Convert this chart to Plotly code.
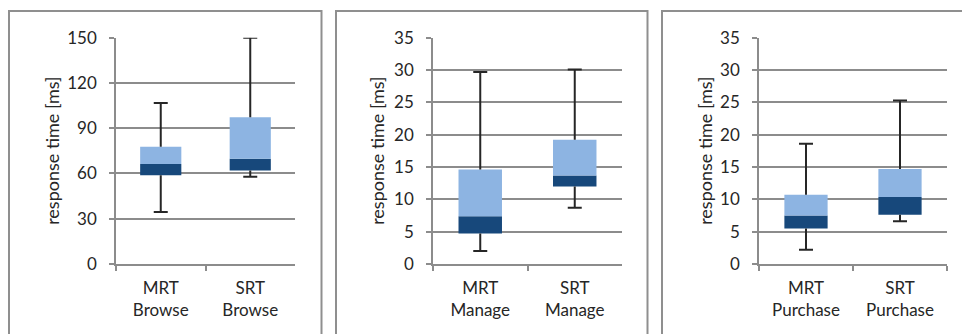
import plotly.graph_objects as go

# Response-time box summaries (min, Q1, median, Q3, max) per operation
browse_labels = ["MRT<br>Browse", "SRT<br>Browse"]
browse_min = [34.5, 57.9]
browse_q1 = [58.8, 61.9]
browse_med = [66.3, 69.8]
browse_q3 = [77.8, 97.2]
browse_max = [106.7, 150.0]

manage_labels = ["MRT<br>Manage", "SRT<br>Manage"]
manage_min = [2.0, 8.7]
manage_q1 = [4.7, 12.0]
manage_med = [7.4, 13.7]
manage_q3 = [14.6, 19.2]
manage_max = [29.7, 30.1]

purchase_labels = ["MRT<br>Purchase", "SRT<br>Purchase"]
purchase_min = [2.2, 6.6]
purchase_q1 = [5.5, 7.6]
purchase_med = [7.5, 10.35]
purchase_q3 = [10.7, 14.7]
purchase_max = [18.6, 25.3]

y_ranges = [[0, 150], [0, 35], [0, 35]]
y_dticks = [30, 5, 5]

LIGHT = "#8db4e2"
DARK = "#17487b"
WHISKER = "#262626"
GRID = "#8c8c8c"
TEXT = "#262626"
FONT = "Lato"

W, H = 962, 334
plot_x = [(116, 295), (433, 622), (759, 947)]
plot_y = (37.7, 264)
title_x = [52, 377, 705]
frames = [(9, 321.5), (336, 647.5), (662, 1000)]
bar_width = 0.46

panels = [
    (browse_labels, browse_min, browse_q1, browse_med, browse_q3, browse_max),
    (manage_labels, manage_min, manage_q1, manage_med, manage_q3, manage_max),
    (purchase_labels, purchase_min, purchase_q1, purchase_med, purchase_q3, purchase_max),
]

fig = go.Figure()
layout = {}
annotations = []
shapes = []

for i, (labels, mn, q1, med, q3, mx) in enumerate(panels):
    sfx = "" if i == 0 else str(i + 1)
    xa, ya = "x" + sfx, "y" + sfx

    # lower whisker and upper whisker segments
    wx, wy = [], []
    for c, lo, b, t, hi in zip(labels, mn, q1, q3, mx):
        wx += [c, c, None, c, c, None]
        wy += [lo, b, None, t, hi, None]
    fig.add_trace(go.Scatter(x=wx, y=wy, mode="lines",
                             line=dict(color=WHISKER, width=2),
                             xaxis=xa, yaxis=ya, showlegend=False, hoverinfo="skip"))
    # whisker caps
    fig.add_trace(go.Scatter(x=labels + labels, y=mn + mx, mode="markers",
                             marker=dict(symbol="line-ew", size=10,
                                         line=dict(color=WHISKER, width=2)),
                             xaxis=xa, yaxis=ya, showlegend=False, hoverinfo="skip"))
    # box: Q1 -> median (dark), median -> Q3 (light)
    fig.add_trace(go.Bar(x=labels, y=[m - b for m, b in zip(med, q1)], base=q1,
                         marker=dict(color=DARK, line=dict(width=0)), width=bar_width,
                         xaxis=xa, yaxis=ya, showlegend=False))
    fig.add_trace(go.Bar(x=labels, y=[t - m for t, m in zip(q3, med)], base=med,
                         marker=dict(color=LIGHT, line=dict(width=0)), width=bar_width,
                         xaxis=xa, yaxis=ya, showlegend=False))

    x0, x1 = plot_x[i]
    layout["xaxis" + sfx] = dict(
        domain=[x0 / W, x1 / W], anchor=ya, type="category", automargin=False,
        range=[-0.5, 1.5], showline=True, linecolor=GRID, linewidth=1.5,
        ticks="outside", tickson="boundaries", ticklen=5, tickcolor=GRID, tickwidth=1.5,
        showgrid=False, zeroline=False, fixedrange=True,
        tickfont=dict(family=FONT, size=17, color=TEXT), ticklabelstandoff=8,
    )
    layout["yaxis" + sfx] = dict(
        domain=[1 - plot_y[1] / H, 1 - plot_y[0] / H], anchor=xa, automargin=False,
        range=y_ranges[i], dtick=y_dticks[i], tick0=0,
        showline=True, linecolor=GRID, linewidth=1.5,
        ticks="outside", ticklen=5, tickcolor=GRID, tickwidth=1.5,
        showgrid=True, gridcolor=GRID, gridwidth=1.5, zeroline=False, fixedrange=True,
        tickfont=dict(family=FONT, size=17, color=TEXT), ticklabelstandoff=9,
    )
    annotations.append(dict(
        text="response time [ms]", textangle=-90, xref="paper", yref="paper",
        x=title_x[i] / W, y=1 - (plot_y[0] + plot_y[1]) / 2 / H,
        xanchor="center", yanchor="middle", showarrow=False,
        font=dict(family=FONT, size=18, color=TEXT),
    ))
    fx0, fx1 = frames[i]
    shapes.append(dict(
        type="rect", xref="paper", yref="paper",
        x0=fx0 / W, x1=fx1 / W, y0=-0.1, y1=1 - 11 / H,
        line=dict(color="#8f8f8f", width=2), layer="below",
    ))

fig.update_layout(
    width=W, height=H, margin=dict(l=0, r=0, t=0, b=0, autoexpand=False),
    paper_bgcolor="white", plot_bgcolor="white",
    barmode="overlay", showlegend=False,
    annotations=annotations, shapes=shapes,
    **layout,
)

fig.write_html("out.html")
